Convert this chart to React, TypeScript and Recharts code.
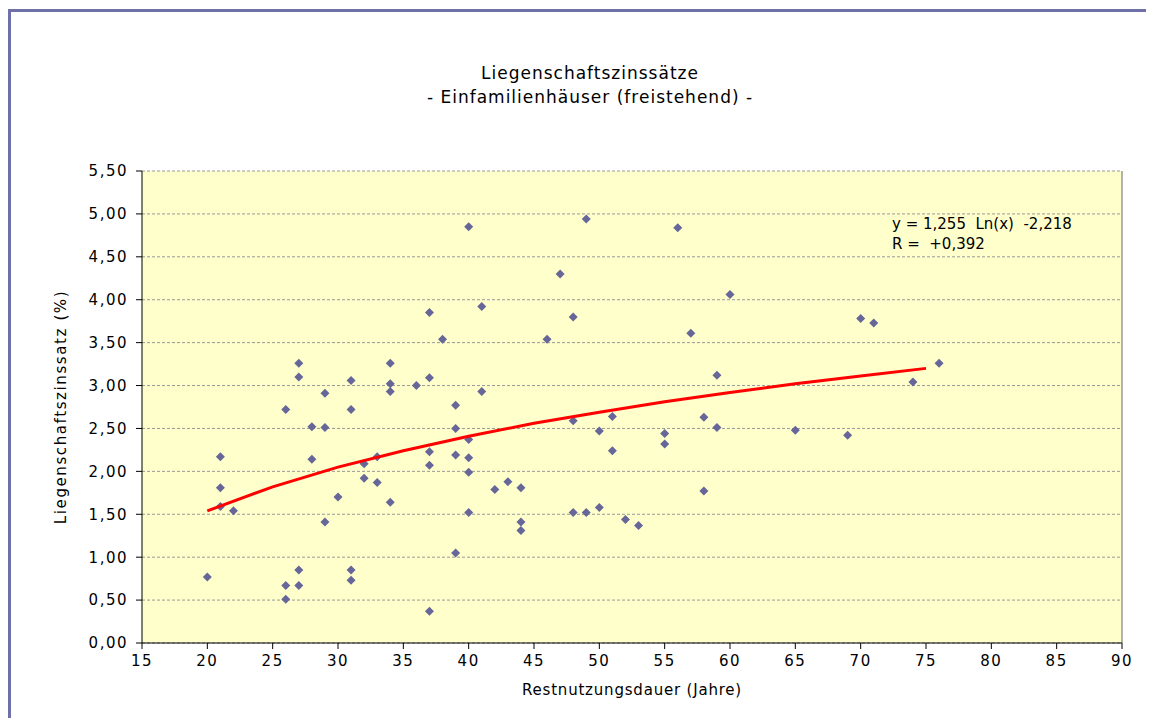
import React from 'react';
import {
  ScatterChart,
  Scatter,
  XAxis,
  YAxis,
  CartesianGrid,
  ReferenceLine,
} from 'recharts';

// Restnutzungsdauer (Jahre) und Liegenschaftszinssatz (%) je Objekt
const restnutzungsdauer = [
  20, 21, 21, 21, 22, 26, 26, 26, 27, 27, 27, 27, 28, 28, 29, 29, 29, 30, 31, 31, 31, 31,
  32, 32, 33, 33, 34, 34, 34, 34, 36, 37, 37, 37, 37, 37, 38, 39, 39, 39, 39, 40, 40, 40,
  40, 40, 41, 41, 42, 43, 44, 44, 44, 46, 47, 48, 48, 48, 49, 49, 50, 50, 51, 51, 52, 53,
  55, 55, 56, 57, 58, 58, 59, 59, 60, 65, 69, 70, 71, 74, 76,
];
const zinssatz = [
  0.77, 2.17, 1.81, 1.59, 1.54, 2.72, 0.67, 0.51, 3.26, 3.1, 0.85, 0.67, 2.52, 2.14, 2.91,
  2.51, 1.41, 1.7, 3.06, 2.72, 0.85, 0.73, 2.09, 1.92, 2.17, 1.87, 3.26, 3.02, 2.93, 1.64,
  3.0, 3.85, 3.09, 2.23, 2.07, 0.37, 3.54, 2.77, 2.5, 2.19, 1.05, 4.85, 2.37, 2.16, 1.99,
  1.52, 3.92, 2.93, 1.79, 1.88, 1.81, 1.41, 1.31, 3.54, 4.3, 3.8, 2.59, 1.52, 4.94, 1.52,
  2.47, 1.58, 2.64, 2.24, 1.44, 1.37, 2.44, 2.32, 4.84, 3.61, 2.63, 1.77, 3.12, 2.51, 4.06,
  2.48, 2.42, 3.78, 3.73, 3.04, 3.26,
];

// Trendlinie (logarithmisch)
const trendX = [20, 25, 30, 35, 40, 45, 50, 55, 60, 65, 70, 75];
const trendY = [1.54, 1.82, 2.05, 2.24, 2.41, 2.56, 2.69, 2.81, 2.92, 3.02, 3.11, 3.2];

const xTicks = [15, 20, 25, 30, 35, 40, 45, 50, 55, 60, 65, 70, 75, 80, 85, 90];
const yTicks = [0, 0.5, 1, 1.5, 2, 2.5, 3, 3.5, 4, 4.5, 5, 5.5];

const FONT = 'Verdana, "DejaVu Sans", sans-serif';

const points = restnutzungsdauer.map((x, i) => ({ x, y: zinssatz[i] }));
const trend = trendX.map((x, i) => ({ x, y: trendY[i] }));

const Diamond = (props: any) => {
  const { cx, cy } = props;
  const r = 4.5;
  return (
    <polygon
      points={`${cx},${cy - r} ${cx + r},${cy} ${cx},${cy + r} ${cx - r},${cy}`}
      fill="#666699"
    />
  );
};

const fmt = (v: number) => v.toFixed(2).replace('.', ',');

const tickStyle = { fill: '#000', fontSize: 15, fontFamily: FONT, letterSpacing: 1.5 };

export default function App() {
  return (
    <div style={{ position: 'relative', width: 1146, height: 710, fontFamily: FONT }}>
      <div
        style={{
          position: 'absolute',
          left: 0,
          top: 1,
          right: 0,
          bottom: 0,
          borderLeft: '3px solid #7070A8',
          borderTop: '3px solid #7070A8',
        }}
      />
      <div
        style={{
          position: 'absolute',
          left: 0,
          width: 1146,
          top: 53,
          textAlign: 'center',
          fontSize: 17,
          letterSpacing: 1,
          lineHeight: '24px',
          color: '#000',
          paddingLeft: 18,
          boxSizing: 'border-box',
        }}
      >
        <div>Liegenschaftszinssätze</div>
        <div>- Einfamilienhäuser (freistehend) -</div>
      </div>
      <div
        style={{
          position: 'absolute',
          left: 884,
          top: 206,
          fontSize: 15,
          lineHeight: '20px',
          color: '#000',
          zIndex: 2,
        }}
      >
        <div>y = 1,255 &nbsp;Ln(x) &nbsp;-2,218</div>
        <div>R = &nbsp;+0,392</div>
      </div>
      <div style={{ position: 'absolute', left: 0, top: 0 }}>
        <ScatterChart
          width={1146}
          height={702}
          margin={{ top: 163, right: 32, left: 0, bottom: 7 }}
        >
          <CartesianGrid
            vertical={false}
            horizontal
            fill="#FFFFCC"
            stroke="#999999"
            strokeDasharray="3 2"
          />
          <XAxis
            type="number"
            dataKey="x"
            domain={[15, 90]}
            ticks={xTicks}
            interval={0}
            height={60}
            stroke="#000"
            tickSize={6}
            tickMargin={6}
            tick={tickStyle}
            label={{
              value: 'Restnutzungsdauer  (Jahre)',
              position: 'insideBottom',
              offset: 8,
              style: { fill: '#000', fontSize: 15, letterSpacing: 0.8, fontFamily: FONT },
            }}
          />
          <YAxis
            type="number"
            dataKey="y"
            domain={[0, 5.5]}
            ticks={yTicks}
            interval={0}
            width={134}
            stroke="#000"
            tickSize={6}
            tickMargin={8}
            tickFormatter={fmt}
            tick={tickStyle}
            label={{
              value: 'Liegenschaftszinssatz (%)',
              angle: -90,
              position: 'insideLeft',
              offset: 53,
              style: {
                fill: '#000',
                fontSize: 15,
                letterSpacing: 1.6,
                fontFamily: FONT,
                textAnchor: 'middle',
              },
            }}
          />
          <ReferenceLine x={90} stroke="#999999" strokeWidth={1.5} />
          <Scatter data={points} shape={<Diamond />} isAnimationActive={false} />
          <Scatter
            data={trend}
            line={{ stroke: '#FF0000', strokeWidth: 3 }}
            lineType="joint"
            shape={() => <g />}
            isAnimationActive={false}
          />
        </ScatterChart>
      </div>
    </div>
  );
}
